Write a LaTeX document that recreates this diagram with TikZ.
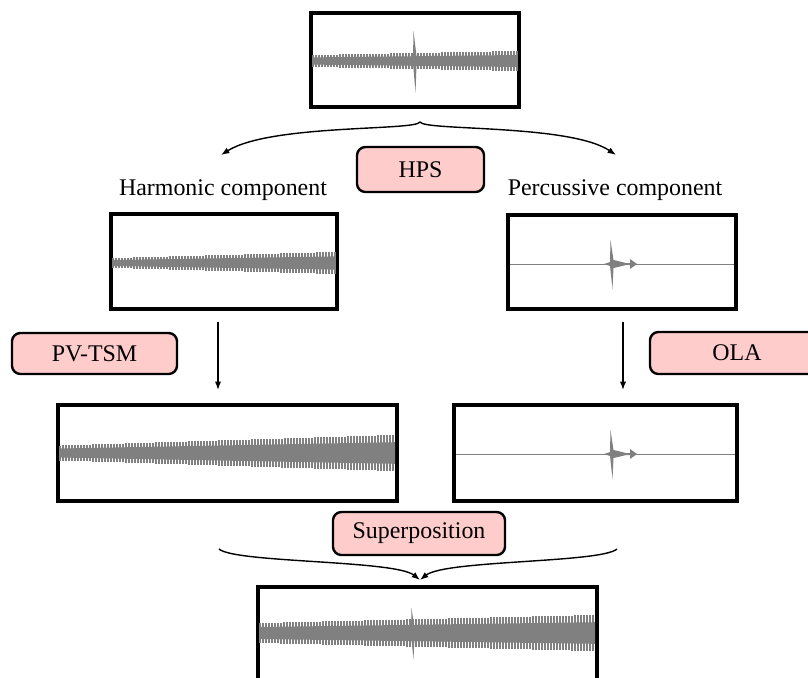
\documentclass[tikz,border=0pt]{standalone}
\usepackage{fontspec}
\setmainfont{Liberation Serif}
\usetikzlibrary{arrows.meta}

\definecolor{wavegray}{RGB}{128,128,128}
\definecolor{procpink}{RGB}{255,204,204}

% banda harmonica: x0, x1, centro, amplitude inicial, amplitude final
\newcommand{\harmwave}[5]{%
  \pgfmathsetmacro{\hwn}{int((#2-#1)/3)}
  \fill[wavegray] (#1,#3-0.6*#4) -- (#2,#3-0.6*#5) -- (#2,#3+0.6*#5) -- (#1,#3+0.6*#4) -- cycle;
  \foreach \i in {0,...,\hwn}{
    \pgfmathsetmacro{\wx}{#1+3*\i}
    \pgfmathsetmacro{\wa}{#4+(#5-#4)*\i/\hwn}
    \draw[wavegray,line width=0.9pt] (\wx,#3-\wa) -- (\wx,#3+\wa);
  }
}
% transiente: x, centro, escala
\newcommand{\transient}[3]{%
  \begin{scope}[shift={(#1,#2)},yscale=#3]
    \fill[wavegray] (-8,0) -- (-2,-2) -- (-1.5,-24) -- (1.5,-4) -- (6,-3) -- (14,-1) -- (18,-1)
      -- (18,-5) -- (25,0) -- (18,5) -- (18,1) -- (14,1) -- (6,3) -- (1.5,4) -- (0.5,25) -- (-2,2) -- cycle;
  \end{scope}
}

\begin{document}
\begin{tikzpicture}[x=0.025cm,y=-0.025cm,
    wavebox/.style={draw,line width=2.4pt,inner sep=0pt},
    procbox/.style={draw,line width=1.7pt,rounded corners=6pt,fill=procpink,inner sep=0pt,
      font=\fontsize{17}{20}\selectfont},
    complabel/.style={font=\fontsize{17}{20}\selectfont},
    link/.style={line width=1pt,-{Latex[length=6pt,width=4.5pt]}}]
  \useasboundingbox (0,0) rectangle (808,677);

  % Sinal original
  \node[wavebox,minimum width=5.2cm,minimum height=2.35cm] (orig) at (415,60) {};
  \harmwave{313}{517}{61}{6}{10}
  \transient{415}{61}{1.25}

  % Componentes
  \node[complabel] (harmlabel) at (223,190) {Harmonic component};
  \node[complabel] (perclabel) at (615,190) {Percussive component};
  \node[wavebox,minimum width=5.65cm,minimum height=2.375cm] (harm) at (224,261.5) {};
  \harmwave{113}{335}{263}{5}{11}
  \node[wavebox,minimum width=5.7cm,minimum height=2.35cm] (perc) at (622,262) {};
  \draw[wavegray,line width=0.7pt] (510,264) -- (734,264);
  \transient{612}{264}{1}

  % Sinais modificados
  \node[wavebox,minimum width=8.475cm,minimum height=2.4cm] (harmts) at (227.5,453) {};
  \harmwave{60}{395}{453}{7.5}{18}
  \node[wavebox,minimum width=7.075cm,minimum height=2.4cm] (percts) at (595.5,453) {};
  \draw[wavegray,line width=0.7pt] (456,454) -- (735,454);
  \transient{612}{454}{1}

  % Sinal de saida
  \node[wavebox,minimum width=8.475cm,minimum height=2.4cm] (out) at (427.5,635) {};
  \harmwave{260}{595}{633}{10}{18}
  \transient{413}{633}{1.05}

  % Processos
  \node[procbox,minimum width=3.175cm,minimum height=1.125cm] (hps) at (420.5,169.5) {HPS};
  \node[procbox,minimum width=4.125cm,minimum height=1.025cm] (pvtsm) at (94.5,353.5) {PV-TSM};
  \node[procbox,minimum width=4.35cm,minimum height=1.05cm] (ola) at (737,353) {OLA};
  \node[procbox,minimum width=4.3cm,minimum height=1.075cm] (sup) at (419,533.5) {Superposition};

  % Setas
  \coordinate (split) at (420,122);
  \coordinate (harmin) at (221,155);
  \coordinate (percin) at (616,155);
  \draw[link] (split) .. controls (416,131) and (270,124) .. (harmin);
  \draw[link] (split) .. controls (424,131) and (570,124) .. (percin);
  \coordinate (harmout) at (218,322);
  \coordinate (harmtsin) at (218,390);
  \coordinate (percout) at (623,322);
  \coordinate (perctsin) at (623,390);
  \draw[link] (harmout) -- (harmtsin);
  \draw[link] (percout) -- (perctsin);
  \coordinate (harmtsout) at (219,549);
  \coordinate (perctsout) at (617,549);
  \coordinate (merge) at (420,580);
  \draw[link] (harmtsout) .. controls (235,563) and (395,560) .. (merge);
  \draw[link] (perctsout) .. controls (601,563) and (445,560) .. (merge);
\end{tikzpicture}
\end{document}
